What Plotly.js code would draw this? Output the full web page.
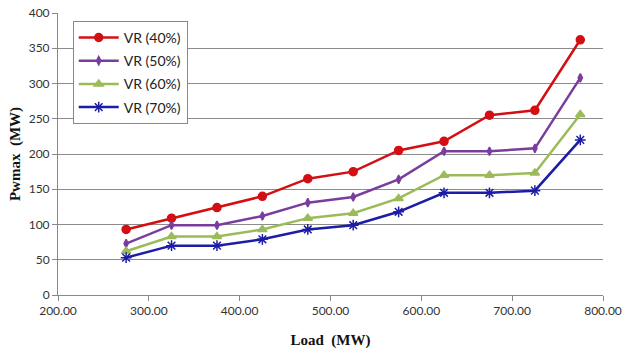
<!DOCTYPE html>
<html><head><meta charset="utf-8">
<script src="https://cdn.plot.ly/plotly-3.0.1.min.js"></script>
<style>html,body{margin:0;padding:0;background:#fff}#chart{width:629px;height:358px}</style>
</head><body><div id="chart"></div>
<script>
const load = [275, 325, 375, 425, 475, 525, 575, 625, 675, 725, 775];
const vr40 = [93, 109, 124, 140, 165, 175, 205, 218, 255, 262, 362];
const vr50 = [73, 99, 99, 112, 131, 139, 164, 204, 204, 208, 308];
const vr60 = [62, 83, 83, 93, 109, 116, 137, 170, 170, 173, 256];
const vr70 = [53, 70, 70, 79, 93, 99, 118, 145, 145, 148, 220];
const names = ['VR (40%)', 'VR (50%)', 'VR (60%)', 'VR (70%)'];
const xTicks = [200, 300, 400, 500, 600, 700, 800];

const series = [vr40, vr50, vr60, vr70];
const colors = ['#d40f14', '#7a3d9e', '#9bbb59', '#1c1ca6'];
const symbols = ['circle', 'diamond-tall', 'triangle-up', 'asterisk-open'];
const sizes = [8, 6, 8, 9];

const traces = series.map((s, i) => ({
  x: load, y: s, name: names[i], type: 'scatter', mode: 'lines+markers',
  legendgroup: 'g' + i,
  line: {color: colors[i], width: 2.5},
  marker: {symbol: symbols[i], size: sizes[i], color: colors[i], line: {color: colors[i], width: 1.5}}
}));

const layout = {
  width: 629, height: 358,
  margin: {l: 58, r: 26, t: 13, b: 63},
  paper_bgcolor: '#fff', plot_bgcolor: '#fff',
  showlegend: true,
  legend: {x: 0.027, y: 0.972, xanchor: 'left', yanchor: 'top',
    bordercolor: '#888', borderwidth: 1, bgcolor: '#fff', tracegroupgap: 2, itemwidth: 40,
    font: {family: 'Lato, sans-serif', size: 14, color: '#222'}},
  xaxis: {range: [200, 800], tickvals: xTicks, ticktext: xTicks.map(v => v.toFixed(2)),
    showgrid: false, zeroline: false, showline: true, linecolor: '#888', linewidth: 1,
    ticks: 'outside', ticklen: 5, tickcolor: '#888',
    tickfont: {family: 'Lato, sans-serif', size: 12, color: '#333'},
    title: {text: '<b>Load  (MW)</b>', font: {family: 'Liberation Serif, serif', size: 15, color: '#111'}, standoff: 17}},
  yaxis: {range: [0, 400], dtick: 50, showgrid: true, gridcolor: '#8c8c8c', gridwidth: 1,
    zeroline: false, showline: true, linecolor: '#888', linewidth: 1,
    ticks: 'outside', ticklen: 5, tickcolor: '#888',
    tickfont: {family: 'Lato, sans-serif', size: 12, color: '#333'},
    title: {text: '<b>Pwmax  (MW)</b>', font: {family: 'Liberation Serif, serif', size: 15, color: '#111'}, standoff: 4}}
};

Plotly.newPlot('chart', traces, layout, {displayModeBar: false, staticPlot: true});
</script>
</body></html>
